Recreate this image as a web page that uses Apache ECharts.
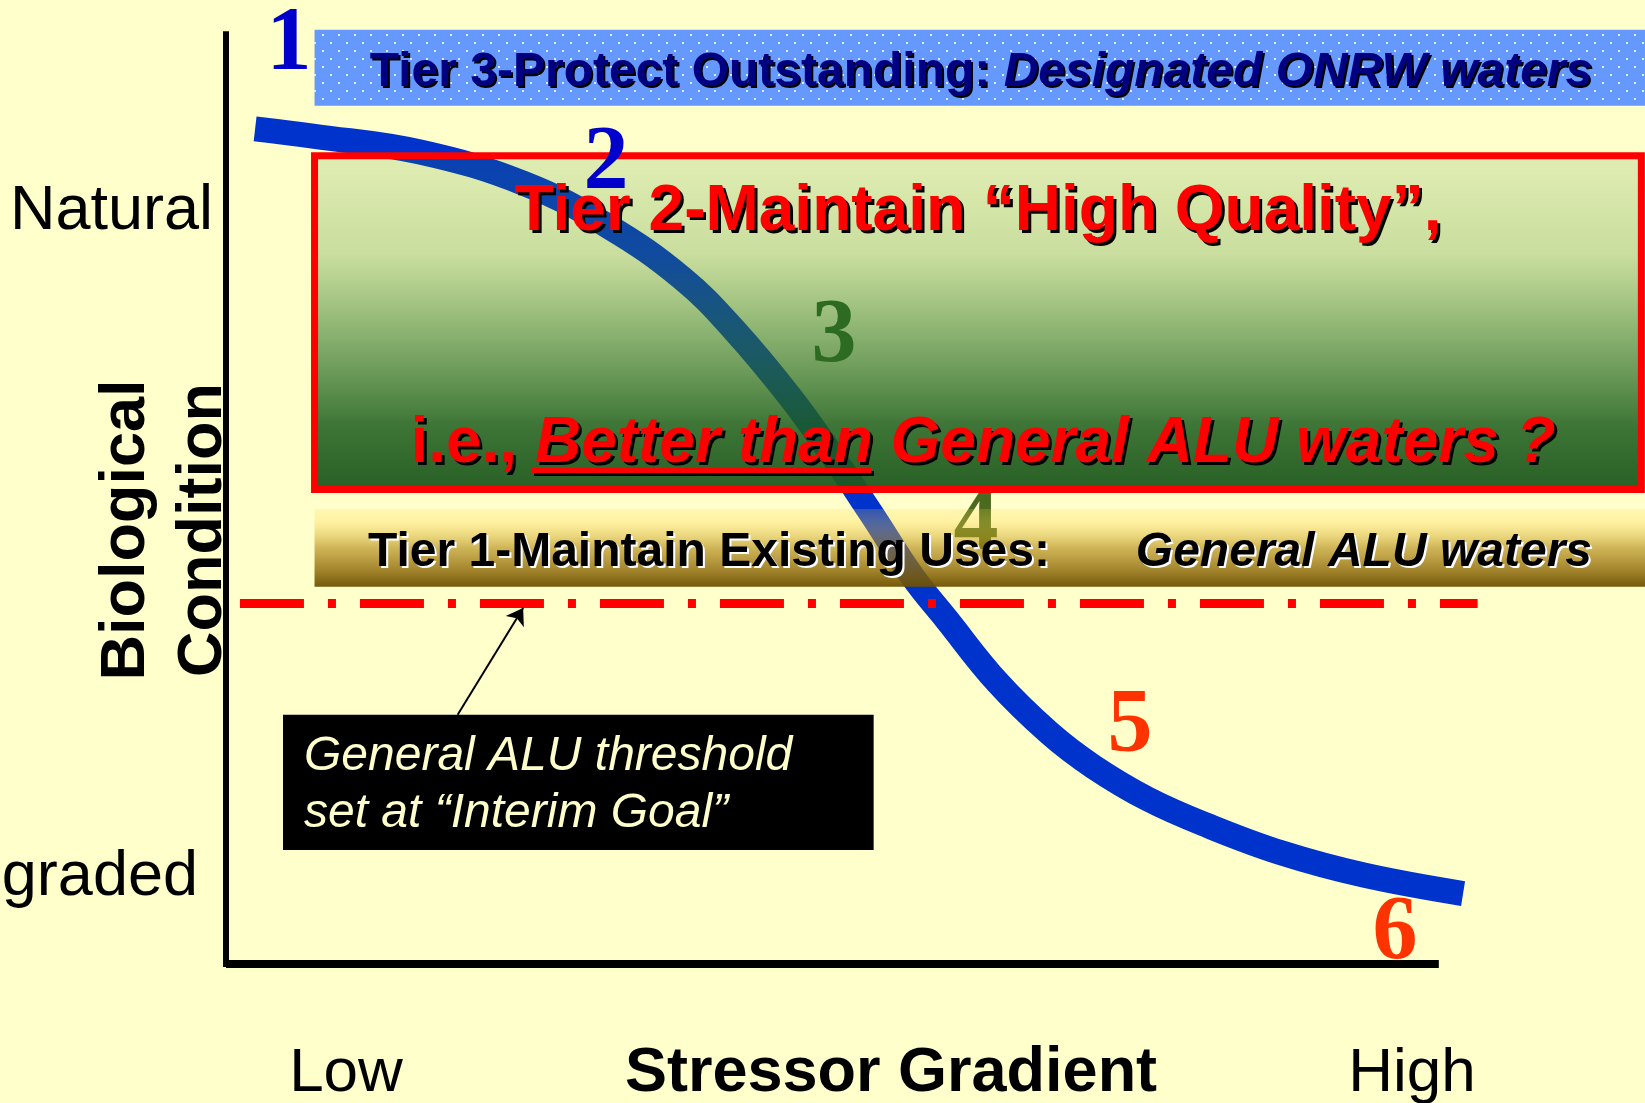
<!DOCTYPE html>
<html>
<head>
<meta charset="utf-8">
<title>Biological condition vs stressor gradient</title>
<script src="https://cdn.jsdelivr.net/npm/echarts@6/dist/echarts.min.js"></script>
<style>
  html, body { margin: 0; padding: 0; background: #ffffcc; }
  #chart { width: 1645px; height: 1103px; }
</style>
</head>
<body>
<div id="chart"></div>
<script>
// stressor gradient (x) and biological condition (y), both in 0-100 units
const curveX = [2.4, 7.3, 16.0, 24.6, 31.5, 37.6, 41.9, 46.5, 49.7, 53.2, 56.6, 59.4, 63.6, 67.9, 71.5, 76.0, 81.0, 87.0, 93.8, 102.0];
const curveY = [90.1, 89.3, 87.6, 84.2, 79.6, 74.0, 68.4, 61.2, 55.4, 48.6, 41.8, 37.2, 30.4, 24.9, 21.3, 17.8, 14.9, 12.0, 9.6, 7.6];

// bands as [xStart, xEnd, yLow, yHigh]
const tier3Band = [7.3, 117, 92.6, 100.8];
const tier2Band = [7.3, 116.7, 51.2, 87.2];
const tier1Band = [7.3, 117, 40.7, 49.1];
const calloutBox = [4.7, 53.4, 12.3, 26.9];

// interim goal threshold and the arrow pointing at it
const thresholdY = 38.9;
const thresholdX = [1.15, 103.2];
const arrowFrom = [19.1, 26.9];
const arrowTo = [24.5, 38.4];

const yAxisTop = 100.3;
const xAxisEnd = 100;

const yTickLabels = ["Natural", "Degraded"];
const xTickLabels = ["Low", "High"];
const stepLabels = ["1", "2", "3", "4", "5", "6"];

const SANS = "'Liberation Sans', Arial, Helvetica, sans-serif";
const SERIF = "'Liberation Serif', 'Times New Roman', serif";

const chart = echarts.init(document.getElementById("chart"));

function dotPattern() {
  const c = document.createElement("canvas");
  c.width = 16;
  c.height = 16;
  const g = c.getContext("2d");
  g.fillStyle = "#6699ff";
  g.fillRect(0, 0, 16, 16);
  g.fillStyle = "rgba(240,245,220,0.85)";
  g.fillRect(2, 2, 2, 2);
  g.fillRect(10, 10, 2, 2);
  return c;
}

function band(b, itemStyle) {
  return [{ coord: [b[0], b[3]], itemStyle }, { coord: [b[1], b[2]] }];
}

function vGrad(stops) {
  return {
    type: "linear", x: 0, y: 0, x2: 0, y2: 1,
    colorStops: stops.map(([offset, color]) => ({ offset, color })),
  };
}

function text(x, y, str, style, extra) {
  return Object.assign({
    type: "text", x, y, z: 10, silent: true,
    style: Object.assign({
      text: str, align: "center", verticalAlign: "middle",
      fontFamily: SANS, fontSize: 62, fill: "#000",
    }, style),
  }, extra || {});
}

// a copy of the text in the shadow colour, offset, drawn just underneath
function shadowed(x, y, str, style, shadow, dx, dy) {
  const sStyle = Object.assign({}, style, { fill: shadow });
  if (style.rich) {
    sStyle.rich = {};
    Object.keys(style.rich).forEach((k) => {
      sStyle.rich[k] = Object.assign({}, style.rich[k], { fill: shadow });
    });
  }
  return [
    text(x + dx, y + dy, str, sStyle, { z: 9 }),
    text(x, y, str, style),
  ];
}

function digit(x, y, str, color, z) {
  return text(x, y, str, { fontFamily: SERIF, fontWeight: "bold", fontSize: 90, fill: color }, { z: z || 10 });
}

const bold48 = { fontFamily: SANS, fontWeight: "bold", fontSize: 48 };
const bold64 = { fontFamily: SANS, fontWeight: "bold", fontSize: 64 };

const option = {
  backgroundColor: "#ffffcc",
  animation: false,
  grid: { left: 226, right: 0, top: 0, bottom: 139 },
  xAxis: { type: "value", min: 0, max: 117, show: false },
  yAxis: { type: "value", min: 0, max: 104, show: false },
  series: [
    {
      name: "Biological condition",
      type: "line",
      z: 2,
      smooth: 0.4,
      symbol: "none",
      lineStyle: { width: 25, color: "#0033cc", cap: "butt" },
      data: curveX.map((x, i) => [x, curveY[i]]),
    },
    {
      name: "Tiers",
      type: "line",
      data: [],
      markArea: {
        silent: true,
        z: 4,
        label: { show: false },
        data: [
          band(tier3Band, { color: { image: dotPattern(), repeat: "repeat" } }),
          band(tier2Band, {
            borderColor: "#ff0000",
            borderWidth: 7,
            color: vGrad([
              [0, "rgba(60,140,40,0.15)"],
              [0.3, "rgba(60,135,40,0.28)"],
              [0.55, "rgba(45,115,40,0.58)"],
              [0.8, "rgba(30,95,30,0.86)"],
              [1, "rgba(30,88,30,0.96)"],
            ]),
          }),
          band(tier1Band, {
            color: vGrad([
              [0, "rgba(255,215,70,0.2)"],
              [0.15, "rgba(255,215,70,0.3)"],
              [0.5, "rgba(175,130,10,0.6)"],
              [1, "rgba(110,80,0,0.95)"],
            ]),
          }),
        ],
      },
    },
    {
      name: "Callout",
      type: "line",
      data: [],
      markArea: {
        silent: true,
        z: 6,
        label: { show: false },
        data: [band(calloutBox, { color: "#000" })],
      },
    },
    {
      name: "Lines",
      type: "line",
      data: [],
      markLine: {
        silent: true,
        z: 7,
        symbol: ["none", "none"],
        label: { show: false },
        data: [
          [
            { coord: [thresholdX[0], thresholdY], lineStyle: { color: "#ff0000", width: 9, type: [64, 24, 8, 24], cap: "butt" } },
            { coord: [thresholdX[1], thresholdY] },
          ],
          [
            { coord: [0, 0], lineStyle: { color: "#000", width: 6, type: "solid", cap: "square" } },
            { coord: [0, yAxisTop] },
          ],
          [
            { coord: [0, 0], lineStyle: { color: "#000", width: 8, type: "solid" } },
            { coord: [xAxisEnd, 0] },
          ],
        ],
      },
    },
    {
      name: "Arrow",
      type: "line",
      data: [],
      markLine: {
        silent: true,
        z: 7,
        symbol: ["none", "arrow"],
        symbolSize: 16,
        label: { show: false },
        lineStyle: { color: "#000", width: 2, type: "solid" },
        data: [[{ coord: arrowFrom }, { coord: arrowTo }]],
      },
    },
  ],
  graphic: [].concat(
    // tier 3
    shadowed(981, 73, "{a|Tier 3-Protect Outstanding: }{b|Designated ONRW waters}", {
      rich: {
        a: Object.assign({ fill: "#000080" }, bold48),
        b: Object.assign({ fill: "#000080", fontStyle: "italic" }, bold48),
      },
    }, "#000", 2, 2),
    // tier 2
    shadowed(978, 212, "Tier 2-Maintain \u201cHigh Quality\u201d,", Object.assign({ fill: "#ff0000" }, bold64), "#000", 3, 3),
    [
      { type: "rect", z: 8, silent: true, shape: { x: 534, y: 471, width: 340, height: 5 }, style: { fill: "#000" } },
      { type: "rect", z: 9, silent: true, shape: { x: 531, y: 468, width: 340, height: 5 }, style: { fill: "#ff0000" } },
    ],
    shadowed(983, 444, "{a|i.e., }{b|Better than}{b| General ALU waters ?}", {
      rich: {
        a: Object.assign({ fill: "#ff0000" }, bold64),
        b: Object.assign({ fill: "#ff0000", fontStyle: "italic" }, bold64),
      },
    }, "#000", 3, 3),
    // tier 1
    shadowed(368, 553, "Tier 1-Maintain Existing Uses:", Object.assign({ align: "left", fill: "#000" }, bold48), "#fff", 2, 2),
    shadowed(1592, 553, "General ALU waters", Object.assign({ align: "right", fill: "#000", fontStyle: "italic" }, bold48), "#fff", 2, 2),
    [
      // callout
      text(304, 757, "General ALU threshold", { align: "left", fontStyle: "italic", fontSize: 48, fill: "#ffffcc" }),
      text(304, 814, "set at \u201cInterim Goal\u201d", { align: "left", fontStyle: "italic", fontSize: 48, fill: "#ffffcc" }),
      // axis labels
      text(213, 212, yTickLabels[0], { align: "right", fontSize: 63 }),
      text(198, 878, yTickLabels[1], { align: "right", fontSize: 63 }),
      text(346, 1074, xTickLabels[0], { fontSize: 62 }),
      text(891, 1074, "Stressor Gradient", { fontWeight: "bold", fontSize: 63 }),
      text(1412, 1074, xTickLabels[1], { fontSize: 62 }),
      text(127, 530, "Biological", { fontWeight: "bold", fontSize: 63 }, { rotation: Math.PI / 2 }),
      text(204, 530, "Condition", { fontWeight: "bold", fontSize: 63 }, { rotation: Math.PI / 2 }),
      // step numbers
      digit(289, 46, stepLabels[0], "#0000cc"),
      digit(606, 165, stepLabels[1], "#0000cc"),
      digit(834, 338, stepLabels[2], "#2e6b22"),
      digit(976, 526, stepLabels[3], "#4b6a1e", 3),
      digit(1130, 728, stepLabels[4], "#ff3300"),
      digit(1395, 935, stepLabels[5], "#ff3300"),
    ]
  ),
};

chart.setOption(option);
</script>
</body>
</html>
